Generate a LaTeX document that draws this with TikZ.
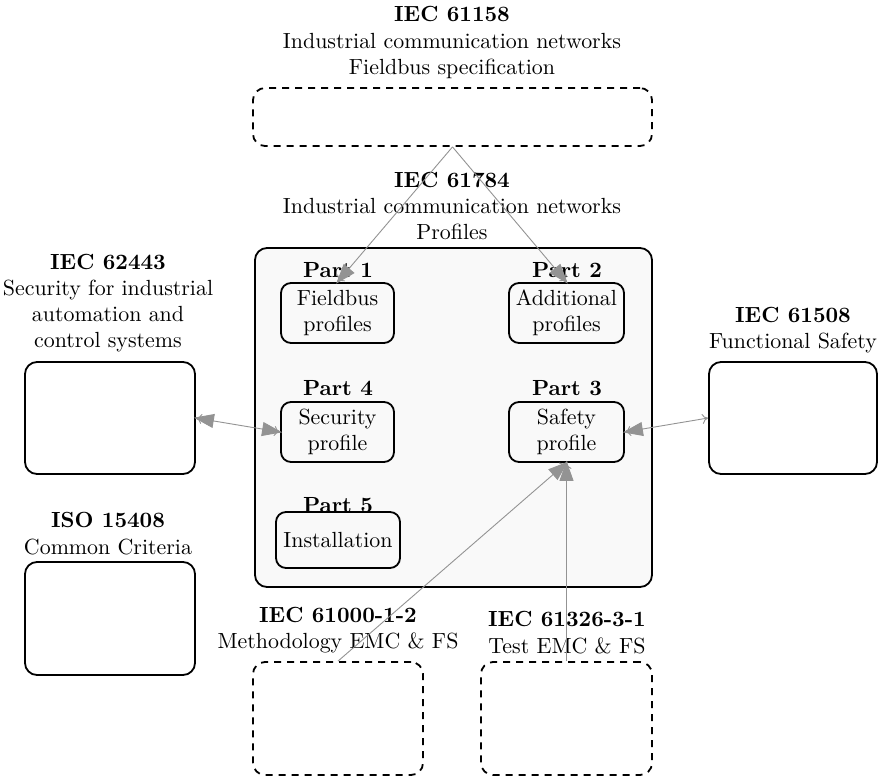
\documentclass[tikz,border=0pt]{standalone}
\usetikzlibrary{arrows.meta}
\definecolor{boxfill}{gray}{0.975}
\newcommand{\myfs}{\fontsize{10.95}{13}\selectfont}
\tikzset{
  title/.style={font=\myfs\bfseries, inner sep=0pt, anchor=base},
  sub/.style={font=\myfs, inner sep=0pt, anchor=base},
  part/.style={font=\myfs, draw, line width=0.9pt, rounded corners=5pt, align=center, inner sep=2pt},
  solidbox/.style={draw, line width=0.9pt, rounded corners=6pt},
  dashbox/.style={draw, line width=0.9pt, rounded corners=6pt, dash pattern=on 3.5pt off 3pt},
  conn/.style={draw=gray!85, line width=0.45pt},
  bigend/.style={conn, -{Triangle[length=10pt,width=7pt,sep=-4pt]To[length=3pt,width=5pt]}},
  bigboth/.style={conn, {To[length=3pt,width=5pt]Triangle[length=10pt,width=7pt,sep=-4pt]}-{Triangle[length=10pt,width=7pt,sep=-4pt]To[length=3pt,width=5pt]}},
  bigsmall/.style={conn, {To[length=3pt,width=5pt]}-{Triangle[length=10pt,width=7pt,sep=-4pt]To[length=3pt,width=5pt]}},
}
\begin{document}
\begin{tikzpicture}[x=0.5pt,y=-0.5pt]
\useasboundingbox (0,0) rectangle (880,778);
% big profile box
\draw[solidbox, fill=boxfill] (255,248) rectangle (652,587);
% top 61158
\node[title] (t1) at (452,21) {IEC 61158};
\node[sub] (t1a) at (452,48) {Industrial communication networks};
\node[sub] (t1b) at (452,74) {Fieldbus specification};
\node[dashbox, minimum width=199.5pt, minimum height=29pt] (b1) at (452.5,117) {};
% 61784
\node[title] (t2) at (452,187) {IEC 61784};
\node[sub] (t2a) at (452,213) {Industrial communication networks};
\node[sub] (t2b) at (452,239) {Profiles};
% parts
\node[title] (p1) at (338,277) {Part 1};
\node[part, minimum width=56.5pt, minimum height=30pt] (f1) at (337.5,313) {Fieldbus\\profiles};
\node[title] (p2) at (567,277) {Part 2};
\node[part, minimum width=57.5pt, minimum height=30pt] (f2) at (566.5,313) {Additional\\profiles};
\node[title] (p4) at (338,395) {Part 4};
\node[part, minimum width=56.5pt, minimum height=30pt] (f4) at (337.5,432) {Security\\profile};
\node[title] (p3) at (567,395) {Part 3};
\node[part, minimum width=57.5pt, minimum height=30pt] (f3) at (566.5,432) {Safety\\profile};
\node[title] (p5) at (338,512) {Part 5};
\node[part, minimum width=62pt, minimum height=28pt] (f5) at (338,540) {Installation};
% left 62443
\node[title] (l1) at (108,269) {IEC 62443};
\node[sub] (l1a) at (108,295) {Security for industrial};
\node[sub] (l1b) at (108,321) {automation and};
\node[sub] (l1c) at (108,347) {control systems};
\node[solidbox, minimum width=85pt, minimum height=56pt] (lb1) at (110,418) {};
% ISO 15408
\node[title] (l2) at (108,527) {ISO 15408};
\node[sub] (l2a) at (108,554) {Common Criteria};
\node[solidbox, minimum width=85pt, minimum height=56.5pt] (lb2) at (110,618.5) {};
% right 61508
\node[title] (r1) at (793,322) {IEC 61508};
\node[sub] (r1a) at (793,348) {Functional Safety};
\node[solidbox, minimum width=84pt, minimum height=56pt] (rb1) at (793,418) {};
% bottom
\node[title] (d1) at (338,622) {IEC 61000-1-2};
\node[sub] (d1a) at (338,648) {Methodology EMC \& FS};
\node[dashbox, minimum width=85pt, minimum height=56.5pt] (db1) at (338,718.5) {};
\node[title] (d2) at (567,626) {IEC 61326-3-1};
\node[sub] (d2a) at (567,653) {Test EMC \& FS};
\node[dashbox, minimum width=85.5pt, minimum height=56.5pt] (db2) at (566.5,718.5) {};
% connectors
\draw[bigend] (b1.south) -- (f1.north);
\draw[bigend] (b1.south) -- (f2.north);
\draw[bigboth] (lb1.east) -- (f4.west);
\draw[bigsmall] (rb1.west) -- (f3.east);
\draw[bigend] (db1.north) -- (f3.south);
\draw[bigend] (db2.north) -- (f3.south);
\end{tikzpicture}
\end{document}
